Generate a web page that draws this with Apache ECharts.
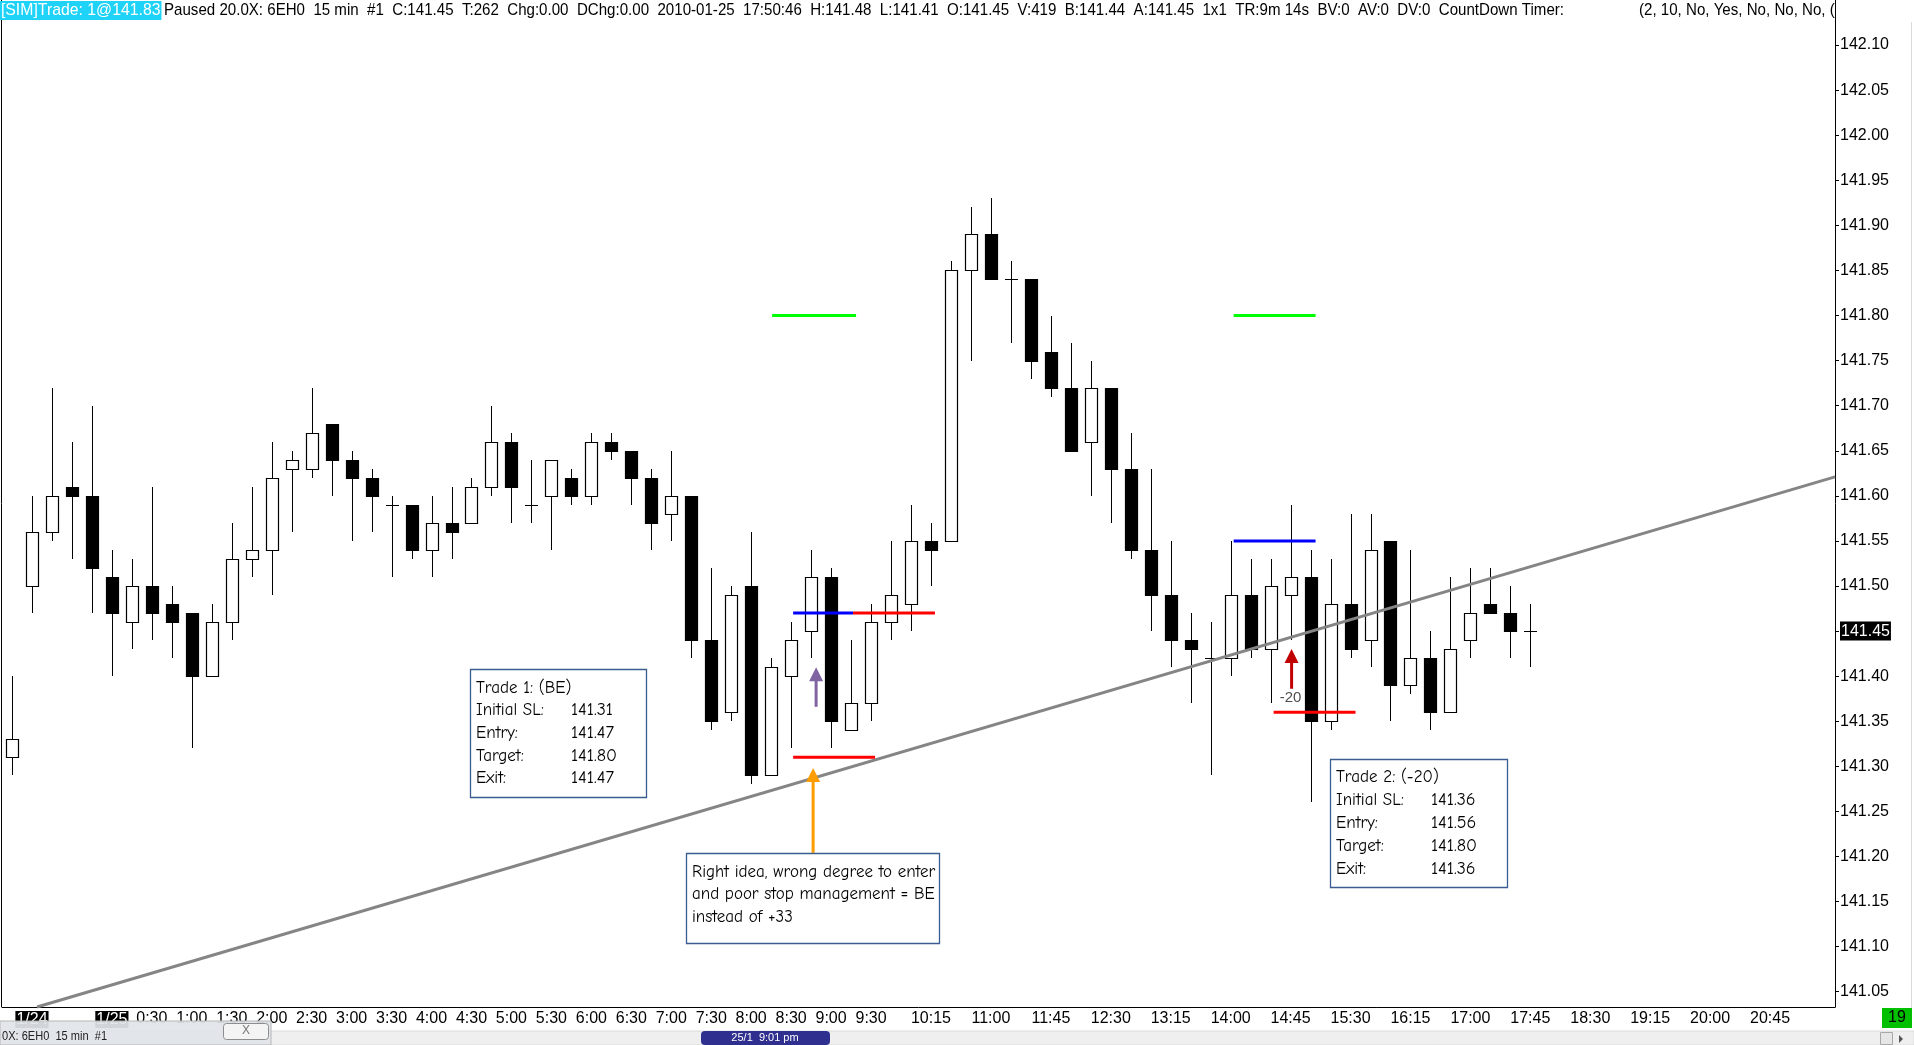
<!DOCTYPE html>
<html><head><meta charset="utf-8">
<script src="https://cdn.jsdelivr.net/npm/echarts@6/dist/echarts.min.js"></script>
<style>html,body{margin:0;padding:0;background:#fff;overflow:hidden}#c{width:1914px;height:1045px}</style>
</head><body><div id="c"></div>
<script>
// ---- data (15-min bars of 6EH0, 2010-01-24/25) ----
const opens  = [141.31,141.50,141.56,141.61,141.60,141.51,141.46,141.50,141.48,141.47,141.40,141.46,141.53,141.54,141.63,141.63,141.68,141.64,141.62,141.59,141.59,141.54,141.57,141.57,141.61,141.66,141.59,141.60,141.62,141.60,141.66,141.65,141.62,141.58,141.60,141.44,141.36,141.50,141.29,141.40,141.45,141.51,141.34,141.37,141.46,141.48,141.55,141.55,141.85,141.89,141.84,141.84,141.76,141.72,141.66,141.72,141.63,141.54,141.49,141.44,141.42,141.42,141.49,141.43,141.49,141.51,141.35,141.48,141.44,141.55,141.39,141.42,141.36,141.44,141.48,141.47,141.45];
const highs  = [141.40,141.60,141.72,141.66,141.70,141.54,141.53,141.61,141.50,141.47,141.48,141.57,141.61,141.66,141.65,141.72,141.68,141.65,141.63,141.60,141.59,141.60,141.61,141.62,141.70,141.67,141.64,141.64,141.63,141.67,141.67,141.65,141.63,141.65,141.60,141.52,141.50,141.56,141.42,141.46,141.54,141.52,141.44,141.48,141.55,141.59,141.57,141.86,141.92,141.93,141.86,141.84,141.80,141.77,141.75,141.72,141.67,141.63,141.55,141.47,141.46,141.55,141.53,141.53,141.59,141.54,141.53,141.58,141.58,141.55,141.54,141.45,141.51,141.52,141.52,141.50,141.48];
const lows   = [141.29,141.47,141.55,141.53,141.47,141.40,141.43,141.44,141.42,141.32,141.40,141.44,141.51,141.49,141.56,141.62,141.60,141.55,141.56,141.51,141.53,141.51,141.53,141.57,141.60,141.57,141.57,141.54,141.59,141.59,141.64,141.59,141.54,141.55,141.42,141.34,141.35,141.28,141.29,141.32,141.42,141.32,141.34,141.35,141.44,141.45,141.50,141.55,141.75,141.84,141.77,141.73,141.71,141.65,141.60,141.57,141.53,141.45,141.41,141.37,141.29,141.40,141.42,141.37,141.44,141.26,141.34,141.42,141.41,141.35,141.38,141.34,141.36,141.42,141.47,141.42,141.41];
const closes = [141.33,141.56,141.60,141.60,141.52,141.47,141.50,141.47,141.46,141.40,141.46,141.53,141.54,141.62,141.64,141.67,141.64,141.62,141.60,141.59,141.54,141.57,141.56,141.61,141.66,141.61,141.59,141.64,141.60,141.66,141.65,141.62,141.57,141.60,141.44,141.35,141.49,141.29,141.41,141.44,141.51,141.35,141.37,141.46,141.49,141.55,141.54,141.85,141.89,141.84,141.84,141.75,141.72,141.65,141.72,141.63,141.54,141.49,141.44,141.43,141.42,141.49,141.43,141.50,141.51,141.35,141.48,141.43,141.54,141.39,141.42,141.36,141.43,141.47,141.47,141.45,141.45];
const lastPrice = 141.45;

// time slots of the axis (15 min each, first slot 22:45 on 1/24)
const slotCount = 92;
function hm(m){ m = ((m % 1440) + 1440) % 1440; return Math.floor(m/60) + ':' + String(m % 60).padStart(2,'0'); }
const categories = Array.from({length: slotCount}, (_, i) => hm(22*60 + 45 + 15*i));
const dateTicks = {'23:00': '1/24', '0:00': '1/25'};
const timeTicks = ['0:30','1:00','1:30','2:00','2:30','3:00','3:30','4:00','4:30','5:00','5:30','6:00','6:30','7:00','7:30','8:00','8:30','9:00','9:30','10:15','11:00','11:45','12:30','13:15','14:00','14:45','15:30','16:15','17:00','17:45','18:30','19:15','20:00','20:45'];
const priceTicks = [141.05,141.10,141.15,141.20,141.25,141.30,141.35,141.40,141.45,141.50,141.55,141.60,141.65,141.70,141.75,141.80,141.85,141.90,141.95,142.00,142.05,142.10];

// trade levels (bar-index range, price)
const levelKinds  = ['target','entry','exit','stop','target','entry','stop'];
const levelPrices = [141.80, 141.47, 141.47, 141.31, 141.80, 141.55, 141.36];
const levelFrom   = [38.05, 39.1, 42.1, 39.1, 61.15, 61.15, 63.15];
const levelTo     = [42.25, 42.1, 46.2, 43.2, 65.25, 65.25, 67.25];

// arrows (bar index, tail price, tip price)
const arrowKinds = ['note','entry','entry2'];
const arrowBars  = [40.1, 40.25, 64.05];
const arrowTails = [141.204, 141.366, 141.386];
const arrowTips  = [141.298, 141.410, 141.430];

// trend line
const trendBars   = [1.25, 91.25];
const trendPrices = [141.033, 141.621];

// trade annotations
const trade1Lines = [['Trade 1: (BE)',''],['Initial SL:','141.31'],['Entry:','141.47'],['Target:','141.80'],['Exit:','141.47']];
const trade2Lines = [['Trade 2: (-20)',''],['Initial SL:','141.36'],['Entry:','141.56'],['Target:','141.80'],['Exit:','141.36']];
const noteLines = ['Right idea, wrong degree to enter','and poor stop management = BE','instead of +33'];
const lossLabel = {bar: 64.0, price: 141.376, text: '-20'};

// ---- styles ----
const levelColors = {target:'#00ff00', entry:'#0000ff', exit:'#ff0000', stop:'#ff0000'};
const arrowColors = {note:'#ff9c00', entry:'#8064a2', entry2:'#c00000'};
const axisFont = 'Liberation Sans, Arial, sans-serif';
const noteFont = '"Comic Sans MS", "Comic Neue", Lato, sans-serif';

const chart = echarts.init(document.getElementById('c'), null, {renderer:'canvas'});

const tickIndices = [...Object.keys(dateTicks), ...timeTicks].map(t => categories.indexOf(t));
const candleData = opens.map((o, i) => [i, o, closes[i], lows[i], highs[i]]);

function candleRender(params, api){
  const x = api.value(0), o = api.value(1), c = api.value(2), l = api.value(3), h = api.value(4);
  const pO = api.coord([x, o]), pC = api.coord([x, c]), pL = api.coord([x, l]), pH = api.coord([x, h]);
  const cx = Math.round(pO[0]) + 0.5;
  const half = 6;
  const top = Math.round(Math.min(pO[1], pC[1])) + 0.5, bot = Math.round(Math.max(pO[1], pC[1])) + 0.5;
  const up = c > o;
  const children = [{type:'line', shape:{x1:cx, y1:Math.round(pH[1]), x2:cx, y2:Math.round(pL[1])}, style:{stroke:'#000', lineWidth:1}}];
  if (bot - top < 1) {
    children.push({type:'line', shape:{x1:cx-half-0.5, y1:top, x2:cx+half+0.5, y2:top}, style:{stroke:'#000', lineWidth:1}});
  } else {
    children.push({type:'rect', shape:{x:cx-half, y:top, width:half*2, height:bot-top}, style:{fill: up ? '#fff' : '#000', stroke:'#000', lineWidth:1.2}});
  }
  return {type:'group', children};
}

function arrowRender(params, api){
  const x = api.value(0), t0 = api.value(1), t1 = api.value(2);
  const col = arrowColors[arrowKinds[params.dataIndex]];
  const a = api.coord([x, t0]), b = api.coord([x, t1]);
  const head = 14, hw = 7;
  return {type:'group', children:[
    {type:'line', shape:{x1:a[0], y1:a[1], x2:b[0], y2:b[1]+head-1}, style:{stroke:col, lineWidth:3}},
    {type:'polygon', shape:{points:[[b[0], b[1]], [b[0]-hw, b[1]+head], [b[0]+hw, b[1]+head]]}, style:{fill:col}}
  ]};
}

const levelSeries = levelKinds.map((k, i) => ({
  type:'line', xAxisIndex:0, yAxisIndex:0, symbol:'none', silent:true, z:6,
  data:[[levelFrom[i], levelPrices[i]], [levelTo[i], levelPrices[i]]],
  lineStyle:{color:levelColors[k], width:3}
}));

function boxLines(lines, x0, x1, ys){
  const out = [];
  lines.forEach((ln, i) => {
    out.push({type:'text', x:x0, y:ys[i], style:{text:ln[0], font:'17px ' + noteFont, fill:'#000', textVerticalAlign:'middle'}});
    if (ln[1]) out.push({type:'text', x:x1, y:ys[i], style:{text:ln[1], font:'18px ' + noteFont, fill:'#000', textVerticalAlign:'middle'}});
  });
  return out;
}

const headerRest = 'Paused 20.0X: 6EH0  15 min  #1  C:141.45  T:262  Chg:0.00  DChg:0.00  2010-01-25  17:50:46  H:141.48  L:141.41  O:141.45  V:419  B:141.44  A:141.45  1x1  TR:9m 14s  BV:0  AV:0  DV:0  CountDown Timer:';
const headerTimer = '(2, 10, No, Yes, No, No, No, (2, 10';

const graphics = [
  // left frame line
  {type:'line', shape:{x1:1.5, y1:0, x2:1.5, y2:1007}, style:{stroke:'#000', lineWidth:1}, z:5},
  // header
  {type:'text', x:0, y:1, scaleX:0.93, style:{text:'[SIM]Trade: 1@141.83', backgroundColor:'#1fd2f7', fill:'#fff', font:'17px ' + axisFont, padding:[1,1,1,1]}, z:5},
  {type:'text', x:164, y:2, scaleX:0.888, style:{text:headerRest, fill:'#000', font:'17px ' + axisFont}, z:5},
  {type:'text', x:1639, y:2, scaleX:0.888, style:{text:headerTimer, fill:'#000', font:'17px ' + axisFont}, z:5},
  {type:'rect', shape:{x:1836, y:0, width:76, height:22}, style:{fill:'#fff'}, z:6},
  // right window edge
  {type:'line', shape:{x1:1911.5, y1:0, x2:1911.5, y2:1008}, style:{stroke:'#d9d9d9', lineWidth:1}, z:5},
  // trade 1 box
  {type:'rect', shape:{x:470.5, y:669.5, width:176, height:128}, style:{fill:'#fff', stroke:'#3b5c8e', lineWidth:1.3}, z:8},
  ...boxLines(trade1Lines, 476, 571, [688, 710, 733, 756, 778]).map(e => Object.assign(e, {z:9})),
  // note box
  {type:'rect', shape:{x:686.5, y:853.5, width:253, height:90}, style:{fill:'#fff', stroke:'#3b5c8e', lineWidth:1.3}, z:8},
  ...noteLines.map((t, i) => ({type:'text', x:692, y:872 + i*22.5, z:9, style:{text:t, font:'17px ' + noteFont, fill:'#000', textVerticalAlign:'middle'}})),
  // trade 2 box
  {type:'rect', shape:{x:1330.5, y:759.5, width:177, height:128}, style:{fill:'#fff', stroke:'#3b5c8e', lineWidth:1.3}, z:8},
  ...boxLines(trade2Lines, 1336, 1431, [777, 800, 823, 846, 869]).map(e => Object.assign(e, {z:9})),
  // bottom strip / scrollbar
  {type:'rect', shape:{x:0, y:1031, width:1914, height:14}, style:{fill:'#efefef', stroke:'#dcdcdc', lineWidth:1}, z:10},
  {type:'rect', shape:{x:701, y:1031, width:129, height:14, r:4}, style:{fill:'#2e2f8f'}, z:11},
  {type:'text', x:765, y:1038, z:12, style:{text:'25/1  9:01 pm', font:'11px ' + axisFont, fill:'#fff', textAlign:'center', textVerticalAlign:'middle'}},
  {type:'rect', shape:{x:1880.5, y:1032.5, width:12, height:12}, style:{fill:'#e6e6e6', stroke:'#a8a8a8', lineWidth:1}, z:11},
  {type:'polygon', shape:{points:[[1899,1035],[1899,1043],[1903,1039]]}, style:{fill:'#555'}, z:11},
  // green counter box
  {type:'rect', shape:{x:1882, y:1008, width:30, height:20}, style:{fill:'#00c000'}, z:11},
  {type:'text', x:1897, y:1018, z:12, style:{text:'19', font:'16px ' + axisFont, fill:'#000', textAlign:'center', textVerticalAlign:'middle'}},
  // floating window at bottom-left
  {type:'rect', shape:{x:0, y:1021, width:271, height:24}, style:{fill:'rgba(225,229,234,0.93)', stroke:'#b5b5b5', lineWidth:1}, z:12},
  {type:'text', x:2, y:1036, z:13, scaleX:0.85, style:{text:'0X: 6EH0  15 min  #1', font:'13px ' + axisFont, fill:'#222', textVerticalAlign:'middle'}},
  {type:'rect', shape:{x:223.5, y:1023.5, width:45, height:16, r:3}, style:{fill:'#f4f4f4', stroke:'#8d8d8d', lineWidth:1}, z:13},
  {type:'text', x:246, y:1031, z:14, style:{text:'X', font:'12px ' + axisFont, fill:'#777', textAlign:'center', textVerticalAlign:'middle'}}
];

chart.setOption({
  animation:false,
  backgroundColor:'#fff',
  grid:{left:2, right:79, top:0, bottom:38, containLabel:false},
  xAxis:[{
    type:'value', min:-0.5, max:91.25, position:'bottom',
    axisLine:{show:true, onZero:false, lineStyle:{color:'#000', width:1}},
    axisTick:{show:false},
    splitLine:{show:false},
    axisLabel:{
      customValues: tickIndices, margin:4, color:'#000', fontFamily:axisFont, fontSize:16,
      showMinLabel:true, showMaxLabel:true, hideOverlap:false,
      formatter: v => { const t = categories[Math.round(v)]; return dateTicks[t] ? '{d|' + dateTicks[t] + '}' : t; },
      rich:{d:{backgroundColor:'#000', color:'#fff', fontFamily:axisFont, fontSize:16, padding:[1,1,0,1]}}
    }
  }],
  yAxis:[{
    type:'value', position:'right', min:141.033, max:142.15,
    axisLine:{show:true, onZero:false, lineStyle:{color:'#000', width:1}},
    axisTick:{show:true, customValues: priceTicks, length:4, inside:false, lineStyle:{color:'#000'}},
    splitLine:{show:false},
    axisLabel:{
      customValues: priceTicks, margin:5, color:'#000', fontFamily:axisFont, fontSize:16,
      showMinLabel:true, showMaxLabel:true,
      formatter: v => Math.abs(v - lastPrice) < 1e-6 ? '{cur|' + v.toFixed(2) + '}' : v.toFixed(2),
      rich:{cur:{backgroundColor:'#000', color:'#fff', fontFamily:axisFont, fontSize:16, padding:[2,1,1,1]}}
    }
  }],
  series:[
    {type:'custom', name:'6EH0', renderItem:candleRender, data:candleData, z:3, clip:true,
     encode:{x:0, y:[1,2,3,4]}},
    {type:'line', name:'trend', symbol:'none', silent:true, z:5, clip:true,
     data: trendBars.map((b, i) => [b, trendPrices[i]]),
     lineStyle:{color:'#858585', width:3}},
    ...levelSeries,
    {type:'custom', name:'arrows', renderItem:arrowRender, z:7,
     data: arrowBars.map((b, i) => [b, arrowTails[i], arrowTips[i]]), encode:{x:0, y:[1,2]}},
    {type:'scatter', name:'loss', symbolSize:0, z:7, silent:true,
     data:[[lossLabel.bar, lossLabel.price]],
     label:{show:true, position:'inside', formatter:lossLabel.text, color:'#222', fontFamily:axisFont, fontSize:15}}
  ],
  graphic: graphics
});
</script>
</body></html>
